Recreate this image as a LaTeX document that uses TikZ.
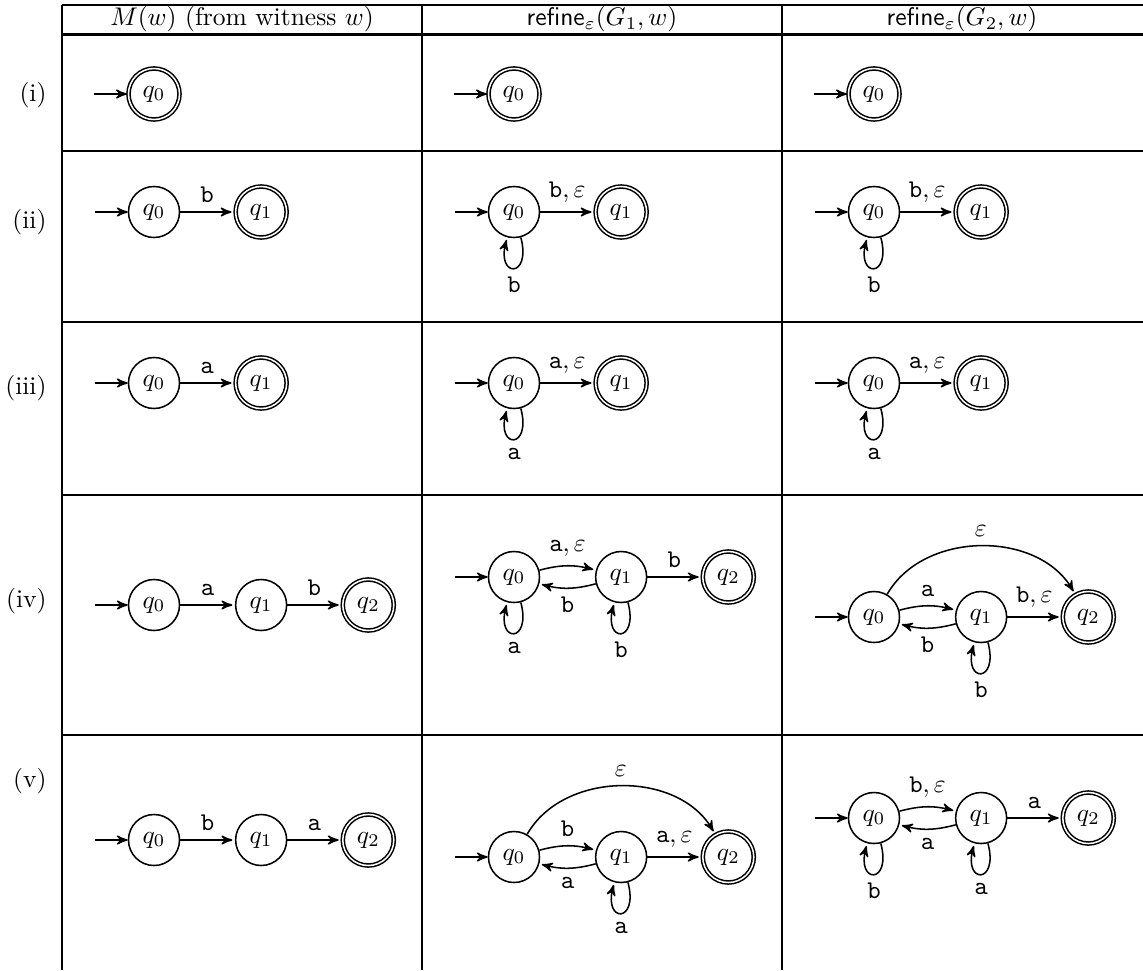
\documentclass[tikz,border=0pt]{standalone}
\usepackage{amsmath,amssymb}
\usetikzlibrary{automata,arrows,positioning}

\tikzset{
  every state/.style={minimum size=20pt, inner sep=1pt, semithick},
  tabline/.style={line width=0.8pt},
  rowlbl/.style={anchor=east, inner sep=0pt},
  trans/.style={->, semithick, shorten >=1pt},
}

\begin{document}
\begin{tikzpicture}[x=0.392pt, y=-0.392pt, >=stealth', node distance=42pt, on grid, auto, initial text={}, every initial by arrow/.style={semithick}]
\useasboundingbox (0,0) rectangle (1143,970);

% table rules
\foreach \y in {4.7,34.5,150.7,322,495,735}
  \draw[tabline] (62,\y) -- (1143,\y);
\foreach \x in {62,422,782}
  \draw[tabline] (\x,4.7) -- (\x,970);

% header
\node (h1) at (242,19) {$M(w)$ (from witness $w$)};
\node (h2) at (602,19) {$\mathsf{refine}_\varepsilon(G_1,w)$};
\node (h3) at (962,19) {$\mathsf{refine}_\varepsilon(G_2,w)$};

% (i)
\node[rowlbl] (li) at (47,95) {(i)};
\node[state,initial,accepting] (i1q0) at (154,94) {$q_0$};
\node[state,initial,accepting] (i2q0) at (514,94) {$q_0$};
\node[state,initial,accepting] (i3q0) at (874,94) {$q_0$};

% (ii)
\node[rowlbl] (lii) at (47,222) {(ii)};
\node[state,initial] (ii1q0) at (154,212) {$q_0$};
\node[state,accepting] (ii1q1) [right=of ii1q0] {$q_1$};
\draw[trans] (ii1q0) -- node {$\mathtt{b}$} (ii1q1);

\node[state,initial] (ii2q0) at (514,212) {$q_0$};
\node[state,accepting] (ii2q1) [right=of ii2q0] {$q_1$};
\draw[trans] (ii2q0) -- node {$\mathtt{b},\varepsilon$} (ii2q1);
\path[trans] (ii2q0) edge[loop below] node {$\mathtt{b}$} ();

\node[state,initial] (ii3q0) at (874,212) {$q_0$};
\node[state,accepting] (ii3q1) [right=of ii3q0] {$q_1$};
\draw[trans] (ii3q0) -- node {$\mathtt{b},\varepsilon$} (ii3q1);
\path[trans] (ii3q0) edge[loop below] node {$\mathtt{b}$} ();

% (iii)
\node[rowlbl] (liii) at (47,388) {(iii)};
\node[state,initial] (iii1q0) at (154,383) {$q_0$};
\node[state,accepting] (iii1q1) [right=of iii1q0] {$q_1$};
\draw[trans] (iii1q0) -- node {$\mathtt{a}$} (iii1q1);

\node[state,initial] (iii2q0) at (514,383) {$q_0$};
\node[state,accepting] (iii2q1) [right=of iii2q0] {$q_1$};
\draw[trans] (iii2q0) -- node {$\mathtt{a},\varepsilon$} (iii2q1);
\path[trans] (iii2q0) edge[loop below] node {$\mathtt{a}$} ();

\node[state,initial] (iii3q0) at (874,383) {$q_0$};
\node[state,accepting] (iii3q1) [right=of iii3q0] {$q_1$};
\draw[trans] (iii3q0) -- node {$\mathtt{a},\varepsilon$} (iii3q1);
\path[trans] (iii3q0) edge[loop below] node {$\mathtt{a}$} ();

% (iv)
\node[rowlbl] (liv) at (47,601) {(iv)};
\node[state,initial] (iv1q0) at (154,605) {$q_0$};
\node[state] (iv1q1) [right=of iv1q0] {$q_1$};
\node[state,accepting] (iv1q2) [right=of iv1q1] {$q_2$};
\draw[trans] (iv1q0) -- node {$\mathtt{a}$} (iv1q1);
\draw[trans] (iv1q1) -- node {$\mathtt{b}$} (iv1q2);

\node[state,initial] (iv2q0) at (514,577) {$q_0$};
\node[state] (iv2q1) [right=of iv2q0] {$q_1$};
\node[state,accepting] (iv2q2) [right=of iv2q1] {$q_2$};
\draw[trans] (iv2q0) to[bend left=15] node {$\mathtt{a},\varepsilon$} (iv2q1);
\draw[trans] (iv2q1) to[bend left=15] node {$\mathtt{b}$} (iv2q0);
\draw[trans] (iv2q1) -- node {$\mathtt{b}$} (iv2q2);
\path[trans] (iv2q0) edge[loop below] node {$\mathtt{a}$} ();
\path[trans] (iv2q1) edge[loop below] node {$\mathtt{b}$} ();

\node[state,initial] (iv3q0) at (874,617) {$q_0$};
\node[state] (iv3q1) [right=of iv3q0] {$q_1$};
\node[state,accepting] (iv3q2) [right=of iv3q1] {$q_2$};
\draw[trans] (iv3q0) to[bend left=15] node {$\mathtt{a}$} (iv3q1);
\draw[trans] (iv3q1) to[bend left=15] node {$\mathtt{b}$} (iv3q0);
\draw[trans] (iv3q1) -- node {$\mathtt{b},\varepsilon$} (iv3q2);
\draw[trans] (iv3q0) to[bend left=60] node {$\varepsilon$} (iv3q2);
\path[trans] (iv3q1) edge[loop below] node {$\mathtt{b}$} ();

% (v)
\node[rowlbl] (lv) at (47,781) {(v)};
\node[state,initial] (v1q0) at (154,840) {$q_0$};
\node[state] (v1q1) [right=of v1q0] {$q_1$};
\node[state,accepting] (v1q2) [right=of v1q1] {$q_2$};
\draw[trans] (v1q0) -- node {$\mathtt{b}$} (v1q1);
\draw[trans] (v1q1) -- node {$\mathtt{a}$} (v1q2);

\node[state,initial] (v2q0) at (514,857) {$q_0$};
\node[state] (v2q1) [right=of v2q0] {$q_1$};
\node[state,accepting] (v2q2) [right=of v2q1] {$q_2$};
\draw[trans] (v2q0) to[bend left=15] node {$\mathtt{b}$} (v2q1);
\draw[trans] (v2q1) to[bend left=15] node {$\mathtt{a}$} (v2q0);
\draw[trans] (v2q1) -- node {$\mathtt{a},\varepsilon$} (v2q2);
\draw[trans] (v2q0) to[bend left=60] node {$\varepsilon$} (v2q2);
\path[trans] (v2q1) edge[loop below] node {$\mathtt{a}$} ();

\node[state,initial] (v3q0) at (874,818) {$q_0$};
\node[state] (v3q1) [right=of v3q0] {$q_1$};
\node[state,accepting] (v3q2) [right=of v3q1] {$q_2$};
\draw[trans] (v3q0) to[bend left=15] node {$\mathtt{b},\varepsilon$} (v3q1);
\draw[trans] (v3q1) to[bend left=15] node {$\mathtt{a}$} (v3q0);
\draw[trans] (v3q1) -- node {$\mathtt{a}$} (v3q2);
\path[trans] (v3q0) edge[loop below] node {$\mathtt{b}$} ();
\path[trans] (v3q1) edge[loop below] node {$\mathtt{a}$} ();
\end{tikzpicture}
\end{document}
